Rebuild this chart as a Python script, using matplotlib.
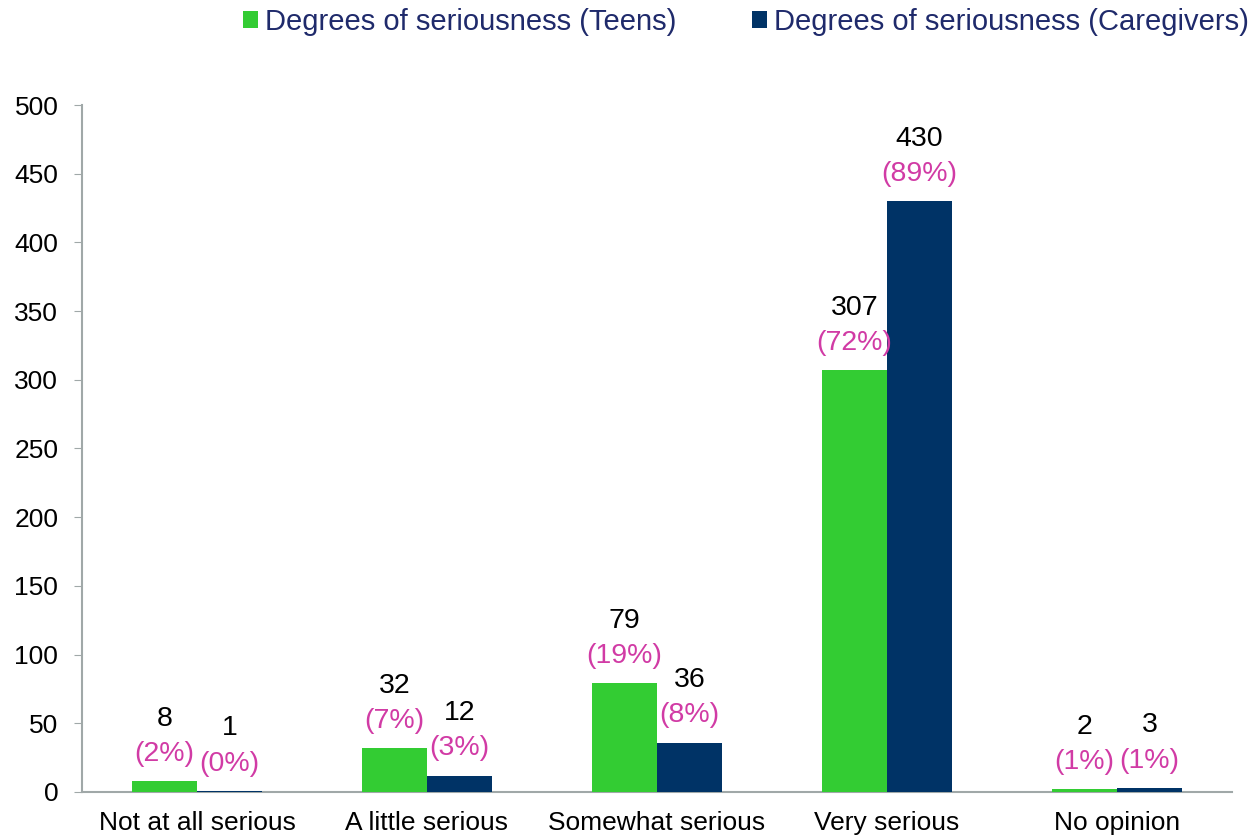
import numpy as np
import matplotlib.pyplot as plt
from matplotlib.patches import Patch

categories = ["Not at all serious", "A little serious", "Somewhat serious",
              "Very serious", "No opinion"]
teens = [8, 32, 79, 307, 2]
teens_pct = ["2%", "7%", "19%", "72%", "1%"]
caregivers = [1, 12, 36, 430, 3]
caregivers_pct = ["0%", "3%", "8%", "89%", "1%"]

GREEN = "#33CC33"
NAVY = "#003366"
PINK = "#D13BA5"
AXIS = "#A0A8A8"

plt.rcParams["font.family"] = ["Liberation Sans", "DejaVu Sans"]

fig = plt.figure(figsize=(12.59, 8.38), dpi=100)
ax = fig.add_axes([0.0651, 0.0549, 0.9135, 0.8198])

x = np.arange(len(categories))
w = 0.283
ax.bar(x - w / 2, teens, w, color=GREEN, zorder=3)
ax.bar(x + w / 2, caregivers, w, color=NAVY, zorder=3)

# count on top, share in brackets just above the bar
for xs, vals, pcts in [(x - w / 2, teens, teens_pct), (x + w / 2, caregivers, caregivers_pct)]:
    for xi, v, p in zip(xs, vals, pcts):
        ax.annotate(f"({p})", (xi, v), xytext=(0, 19.5), textcoords="offset points",
                    ha="center", va="center", fontsize=20.5, color=PINK)
        ax.annotate(f"{v}", (xi, v), xytext=(0, 45), textcoords="offset points",
                    ha="center", va="center", fontsize=20.5, color="black")

ax.set_xlim(-0.5, len(categories) - 0.5)
ax.set_ylim(0, 500)
ax.set_yticks(range(0, 501, 50))
ax.set_xticks(x)
ax.set_xticklabels(categories)
ax.tick_params(axis="y", labelsize=19, length=6, color=AXIS, pad=11)
ax.tick_params(axis="x", labelsize=19, length=0, pad=14)
for s in ["top", "right"]:
    ax.spines[s].set_visible(False)
for s in ["left", "bottom"]:
    ax.spines[s].set_color(AXIS)
    ax.spines[s].set_linewidth(1.5)

handles = [Patch(facecolor=GREEN, label="Degrees of seriousness (Teens)"),
           Patch(facecolor=NAVY, label="Degrees of seriousness (Caregivers)")]
leg = fig.legend(handles=handles, loc="center", bbox_to_anchor=(0.5927, 0.974), ncol=2,
                 frameon=False, fontsize=21, handlelength=0.5, handleheight=0.5,
                 handletextpad=0.25, columnspacing=2.6)
for t in leg.get_texts():
    t.set_color("#1F2A6B")

fig.savefig("out.png", dpi=100)
